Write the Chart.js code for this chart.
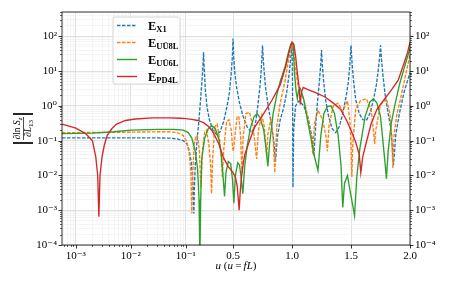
<!DOCTYPE html>
<html>
<head>
<meta charset="utf-8">
<script src="https://cdn.jsdelivr.net/npm/chart.js@4.4.1/dist/chart.umd.min.js"></script>
<style>
  html, body { margin: 0; padding: 0; background: #fff; }
  #wrap { width: 449px; height: 287px; }
</style>
</head>
<body>
<div id="wrap"><canvas id="chart" width="449" height="287"></canvas></div>
<script>
/* ---- data: [u, value] ---- */

const pointsX1 = [
  [5.6e-4,0.12],[0.003,0.12],[0.01,0.12],[0.03,0.12],[0.05,0.118],[0.07,0.112],[0.09,0.1],[0.11,0.08],
  [0.13,0.05],[0.145,0.025],[0.158,0.008],[0.165,0.002],[0.168,0.0008],[0.172,0.004],[0.18,0.02],[0.195,0.1],
  [0.21,0.35],[0.225,1.5],[0.238,6],[0.245,14],[0.25,35],[0.255,14],[0.265,3],[0.28,0.9],
  [0.3,0.4],[0.33,0.2],[0.36,0.15],[0.39,0.18],[0.42,0.35],[0.45,1.0],[0.47,2.5],[0.485,9],
  [0.494,25],[0.5,87],[0.506,25],[0.515,9],[0.53,3.5],[0.555,1.2],[0.585,0.5],[0.62,0.25],
  [0.66,0.17],[0.69,0.3],[0.71,1.0],[0.728,3.5],[0.74,12],[0.745,25],[0.75,55],[0.755,25],
  [0.762,12],[0.775,3.5],[0.8,0.9],[0.825,0.3],[0.845,0.1],[0.86,0.025],[0.875,0.12],[0.9,0.4],
  [0.93,0.9],[0.955,2.5],[0.975,8],[0.99,25],[0.996,50],[1.0,65],[1.004,5],[1.008,0.0046],
  [1.014,0.2],[1.03,1.0],[1.06,1.4],[1.1,1.0],[1.14,0.4],[1.17,0.12],[1.185,0.037],[1.2,0.25],
  [1.215,1.2],[1.232,5],[1.243,15],[1.25,40],[1.257,15],[1.268,5],[1.285,1.5],[1.31,0.5],
  [1.34,0.22],[1.37,0.17],[1.4,0.25],[1.43,0.6],[1.46,2.0],[1.478,5],[1.49,15],[1.5,55],
  [1.51,15],[1.522,5],[1.54,1.5],[1.57,0.6],[1.6,0.4],[1.63,0.38],[1.66,0.6],[1.69,1.5],
  [1.715,4],[1.73,10],[1.743,25],[1.75,55],[1.757,25],[1.77,8],[1.79,2],[1.815,0.6],
  [1.84,0.2],[1.86,0.02],[1.88,0.15],[1.91,0.6],[1.95,2.5],[2.0,9]
];

const pointsUU8 = [
  [5.6e-4,0.17],[0.003,0.172],[0.01,0.175],[0.03,0.18],[0.05,0.18],[0.07,0.17],[0.09,0.14],[0.11,0.09],
  [0.13,0.04],[0.143,0.01],[0.151,0.0008],[0.158,0.01],[0.17,0.07],[0.185,0.14],[0.2,0.13],[0.215,0.05],
  [0.228,0.0045],[0.24,0.05],[0.26,0.18],[0.275,0.2],[0.295,0.08],[0.31,0.02],[0.318,0.003],[0.327,0.03],
  [0.345,0.25],[0.365,0.3],[0.385,0.12],[0.4,0.035],[0.41,0.009],[0.42,0.05],[0.445,0.35],[0.465,0.4],
  [0.485,0.2],[0.497,0.06],[0.503,0.05],[0.512,0.1],[0.535,0.5],[0.55,0.48],[0.565,0.12],[0.575,0.012],
  [0.585,0.12],[0.61,0.6],[0.64,0.65],[0.67,0.25],[0.69,0.06],[0.7,0.03],[0.715,0.2],[0.745,0.55],
  [0.765,0.25],[0.78,0.06],[0.786,0.034],[0.795,0.15],[0.82,0.4],[0.84,0.12],[0.854,0.012],[0.87,0.25],
  [0.9,1.2],[0.94,5],[0.97,20],[0.99,45],[1.0,55],[1.01,45],[1.03,12],[1.05,4],
  [1.08,2.5],[1.11,1.1],[1.14,0.4],[1.165,0.12],[1.176,0.04],[1.19,0.3],[1.22,0.75],[1.26,0.4],
  [1.29,0.12],[1.3,0.05],[1.315,0.3],[1.35,1.0],[1.39,1.2],[1.43,0.7],[1.47,1.4],[1.49,0.4],
  [1.5,0.06],[1.507,0.009],[1.515,0.08],[1.54,0.8],[1.58,1.4],[1.63,1.6],[1.67,0.8],[1.69,0.2],
  [1.7,0.08],[1.71,0.2],[1.75,1.1],[1.8,1.6],[1.83,0.6],[1.845,0.15],[1.855,0.016],[1.865,0.15],
  [1.89,0.6],[1.92,1.6],[1.96,7],[2.0,30]
];

const pointsUU6 = [
  [5.6e-4,0.16],[0.002,0.165],[0.005,0.18],[0.01,0.2],[0.03,0.21],[0.06,0.21],[0.09,0.2],[0.12,0.17],
  [0.15,0.12],[0.18,0.05],[0.2,0.015],[0.212,0.002],[0.219,0.00004],[0.226,0.002],[0.235,0.03],[0.26,0.12],
  [0.29,0.22],[0.32,0.27],[0.35,0.22],[0.38,0.11],[0.4,0.04],[0.415,0.01],[0.428,0.0025],[0.44,0.012],
  [0.46,0.025],[0.48,0.022],[0.495,0.008],[0.507,0.0016],[0.52,0.01],[0.54,0.023],[0.555,0.02],[0.57,0.008],
  [0.583,0.003],[0.6,0.02],[0.62,0.07],[0.65,0.25],[0.68,0.5],[0.705,0.6],[0.73,0.45],[0.76,0.2],
  [0.78,0.06],[0.795,0.018],[0.81,0.08],[0.84,0.6],[0.87,2],[0.9,5],[0.94,13],[0.97,35],
  [0.99,60],[1.0,65],[1.01,55],[1.02,10],[1.035,2.5],[1.045,1.6],[1.055,2.8],[1.07,3.2],
  [1.1,1.5],[1.13,0.4],[1.16,0.12],[1.19,0.035],[1.22,0.014],[1.245,0.15],[1.27,0.6],[1.3,0.95],
  [1.33,1.0],[1.36,0.6],[1.39,0.15],[1.415,0.02],[1.43,0.0012],[1.445,0.006],[1.47,0.01],[1.49,0.004],
  [1.53,0.0007],[1.55,0.01],[1.575,0.06],[1.62,0.5],[1.66,1.3],[1.69,1.6],[1.72,1.2],[1.75,0.5],
  [1.77,0.1],[1.79,0.02],[1.8,0.008],[1.815,0.05],[1.84,0.3],[1.87,1.0],[1.91,4],[1.95,12],[2.0,45]
];

const pointsPD4 = [
  [5.6e-4,0.30],[1e-3,0.23],[1.5e-3,0.16],[2e-3,0.10],[2.3e-3,0.035],[2.5e-3,0.01],[2.62e-3,0.00065],[2.75e-3,0.01],
  [3e-3,0.035],[3.3e-3,0.075],[3.7e-3,0.14],[4.5e-3,0.22],[5.5e-3,0.3],[8e-3,0.38],[0.012,0.42],[0.025,0.45],
  [0.05,0.45],[0.08,0.44],[0.1,0.43],[0.15,0.41],[0.2,0.38],[0.25,0.33],[0.29,0.26],[0.32,0.2],
  [0.35,0.13],[0.38,0.08],[0.4,0.05],[0.42,0.032],[0.46,0.018],[0.5,0.012],[0.52,0.009],[0.535,0.005],
  [0.545,0.002],[0.552,0.001],[0.56,0.003],[0.57,0.008],[0.585,0.02],[0.6,0.04],[0.64,0.1],[0.685,0.25],
  [0.745,0.5],[0.83,1.45],[0.9,4],[0.95,15],[0.98,42],[1.0,68],[1.015,60],[1.03,28],
  [1.045,9],[1.06,3.5],[1.07,1.1],[1.08,2.5],[1.095,3.4],[1.13,3.0],[1.2,2.4],[1.28,1.8],
  [1.35,1.2],[1.41,0.8],[1.46,0.4],[1.5,0.2],[1.54,0.09],[1.57,0.04],[1.583,0.012],[1.6,0.035],
  [1.63,0.09],[1.67,0.3],[1.72,0.8],[1.78,1.5],[1.84,2.8],[1.9,5.5],[1.95,17],[1.98,35],[2.0,67]
];

const seriesNames = ['X1', 'UŪ8L', 'UŪ6L', 'PD4L'];
const seriesColors = ['#1f77b4', '#ff7f0e', '#2ca02c', '#d62728'];
const seriesDashed = [true, true, false, false];

const xMajorTicks = [1e-3, 1e-2, 1e-1, 0.5, 1.0, 1.5, 2.0];
const xTickLabels = ['10⁻³', '10⁻²', '10⁻¹', '0.5', '1.0', '1.5', '2.0'];
const yMajorTicks = [1e-4, 1e-3, 1e-2, 1e-1, 1, 10, 100];
const yTickLabels = ['10⁻⁴', '10⁻³', '10⁻²', '10⁻¹', '10⁰', '10¹', '10²'];

const X_MIN = 5.6e-4, X_MAX = 2.0;
const Y_MIN = 1e-4, Y_MAX = 500;

/* ---- minor ticks (2..9 per decade) ---- */
const xMinorTicks = [];
[1e-4, 1e-3, 1e-2].forEach(d => {
  for (let m = 2; m <= 9; m++) { const v = m * d; if (v >= X_MIN && v < 0.1) xMinorTicks.push(v); }
});
const yAllTicks = [];
yMajorTicks.forEach(d => {
  yAllTicks.push(d);
  for (let m = 2; m <= 9; m++) { const v = m * d; if (v <= Y_MAX) yAllTicks.push(v); }
});

/* ---- x axis: log below 0.1, linear above ---- */
const X_BREAK = 0.1;
const LIN_PER_DECADE = 118 / 55;   // linear-unit width relative to one decade
function fwdX(u) { return u >= X_BREAK ? (u - X_BREAK) * LIN_PER_DECADE : Math.log10(u / X_BREAK); }
function invX(t) { return t >= 0 ? X_BREAK + t / LIN_PER_DECADE : X_BREAK * Math.pow(10, t); }

class LogLinScale extends Chart.Scale {
  static id = 'loglin';
  static defaults = {};
  determineDataLimits() {
    this.min = this.options.min;
    this.max = this.options.max;
  }
  buildTicks() {
    const ticks = xMajorTicks.map(v => ({ value: v, major: true }));
    xMinorTicks.forEach(v => ticks.push({ value: v, major: false }));
    return ticks.sort((a, b) => a.value - b.value);
  }
  configure() {
    super.configure();
    this._t0 = fwdX(this.min);
    this._t1 = fwdX(this.max);
  }
  getLabelForValue(v) { return String(v); }
  getPixelForValue(v) {
    return this.getPixelForDecimal((fwdX(v) - this._t0) / (this._t1 - this._t0));
  }
  getValueForPixel(p) {
    return invX(this._t0 + this.getDecimalForPixel(p) * (this._t1 - this._t0));
  }
}
Chart.register(LogLinScale);

const SERIF = "'Liberation Serif', 'DejaVu Serif', serif";
const GRID_MAJOR = '#d8d8d8';
const GRID_MINOR = '#eeeeee';

function yLabel(v) {
  const k = yMajorTicks.indexOf(v);
  return k >= 0 ? yTickLabels[k] : '';
}

/* ---- text helper: runs of differently styled text ---- */
function drawRuns(ctx, runs, x, y, align) {
  let w = 0;
  runs.forEach(r => { ctx.font = r.font; r.w = ctx.measureText(r.text).width; w += r.w; });
  let cx = align === 'center' ? x - w / 2 : x;
  runs.forEach(r => { ctx.font = r.font; ctx.fillText(r.text, cx, y + (r.dy || 0)); cx += r.w; });
  return w;
}

const decor = {
  id: 'decor',
  afterDraw(chart) {
    const ctx = chart.ctx;
    const a = chart.chartArea;
    const xs = chart.scales.x, yl = chart.scales.y;
    ctx.save();

    // tick marks
    ctx.strokeStyle = '#000';
    xs.ticks.forEach(t => {
      const p = Math.round(xs.getPixelForValue(t.value)) + 0.5;
      ctx.lineWidth = t.major ? 0.8 : 0.6;
      ctx.beginPath(); ctx.moveTo(p, a.bottom); ctx.lineTo(p, a.bottom + (t.major ? 3.5 : 2)); ctx.stroke();
    });
    yl.ticks.forEach(t => {
      const p = Math.round(yl.getPixelForValue(t.value)) + 0.5;
      const len = t.major ? 3.5 : 2;
      ctx.lineWidth = t.major ? 0.8 : 0.6;
      ctx.beginPath(); ctx.moveTo(a.left, p); ctx.lineTo(a.left - len, p); ctx.stroke();
      ctx.beginPath(); ctx.moveTo(a.right, p); ctx.lineTo(a.right + len, p); ctx.stroke();
    });

    // spines
    ctx.lineWidth = 0.8;
    ctx.strokeRect(a.left, a.top, a.right - a.left, a.bottom - a.top);

    // legend
    const lx = 113, ly = 17, lw = 67, lh = 67, r = 2.5;
    ctx.beginPath();
    ctx.moveTo(lx + r, ly); ctx.lineTo(lx + lw - r, ly); ctx.arcTo(lx + lw, ly, lx + lw, ly + r, r);
    ctx.lineTo(lx + lw, ly + lh - r); ctx.arcTo(lx + lw, ly + lh, lx + lw - r, ly + lh, r);
    ctx.lineTo(lx + r, ly + lh); ctx.arcTo(lx, ly + lh, lx, ly + lh - r, r);
    ctx.lineTo(lx, ly + r); ctx.arcTo(lx, ly, lx + r, ly, r); ctx.closePath();
    ctx.fillStyle = 'rgba(255,255,255,0.8)'; ctx.fill();
    ctx.strokeStyle = '#cccccc'; ctx.lineWidth = 0.8; ctx.stroke();

    seriesNames.forEach((name, i) => {
      const ry = 25.5 + i * 17;
      ctx.strokeStyle = seriesColors[i];
      ctx.lineWidth = 1.4;
      ctx.setLineDash(seriesDashed[i] ? [3.5, 1.5] : []);
      ctx.beginPath(); ctx.moveTo(117, ry); ctx.lineTo(137, ry); ctx.stroke();
      ctx.setLineDash([]);
      ctx.fillStyle = '#000';
      ctx.textBaseline = 'alphabetic';
      drawRuns(ctx, [
        { text: 'E', font: 'bold 12.5px ' + SERIF },
        { text: name, font: 'bold 8.5px ' + SERIF, dy: 2 }
      ], 148, ry + 4.3, 'left');
    });

    // x title
    ctx.fillStyle = '#000';
    const it = 'italic 11px ' + SERIF, rm = '11px ' + SERIF;
    drawRuns(ctx, [
      { text: 'u', font: it }, { text: ' (', font: rm }, { text: 'u', font: it },
      { text: '\u2009=\u2009', font: rm }, { text: 'fL', font: it }, { text: ')', font: rm }
    ], (a.left + a.right) / 2, 269, 'center');

    // y title: |d ln S_z / d L_13|, rotated
    ctx.save();
    ctx.translate(23, (a.top + a.bottom) / 2);
    ctx.rotate(-Math.PI / 2);
    const f = '9.5px ' + SERIF, fi = 'italic 9.5px ' + SERIF, fs = 'italic 7px ' + SERIF, fsr = '7px ' + SERIF;
    drawRuns(ctx, [
      { text: '∂', font: f }, { text: 'ln', font: f }, { text: ' ', font: f },
      { text: 'S', font: fi }, { text: 'z', font: fs, dy: 1.8 }
    ], 0, -2.6, 'center');
    drawRuns(ctx, [
      { text: '∂', font: f }, { text: 'L', font: fi }, { text: '13', font: fsr, dy: 1.8 }
    ], 0, 8.2, 'center');
    ctx.strokeStyle = '#000';
    ctx.lineWidth = 0.7;
    ctx.beginPath(); ctx.moveTo(-11.5, 0.5); ctx.lineTo(11.5, 0.5); ctx.stroke();
    ctx.lineWidth = 1.7;
    ctx.beginPath(); ctx.moveTo(-14.5, -10); ctx.lineTo(-14.5, 10); ctx.stroke();
    ctx.beginPath(); ctx.moveTo(14.5, -10); ctx.lineTo(14.5, 10); ctx.stroke();
    ctx.restore();

    ctx.restore();
  }
};

const allPoints = [pointsX1, pointsUU8, pointsUU6, pointsPD4];

const datasets = allPoints.map((pts, i) => ({
  label: 'E_' + seriesNames[i],
  data: pts.map(p => ({ x: p[0], y: p[1] })),
  borderColor: seriesColors[i],
  backgroundColor: seriesColors[i],
  borderWidth: 1.35,
  borderDash: seriesDashed[i] ? [3.5, 1.5] : [],
  showLine: true,
  pointRadius: 0,
  tension: 0,
  order: 4 - i
}));

const tickFont = { family: SERIF, size: 11 };

new Chart(document.getElementById('chart'), {
  type: 'scatter',
  data: { datasets },
  options: {
    responsive: false,
    devicePixelRatio: 1,
    animation: false,
    layout: { padding: { top: 12, left: 0, right: 0, bottom: 0 } },
    plugins: { legend: { display: false }, tooltip: { enabled: false } },
    scales: {
      x: {
        type: 'loglin', position: 'bottom', min: X_MIN, max: X_MAX,
        afterFit: s => { s.height = 42; },
        border: { display: false },
        grid: {
          color: c => (c.tick && c.tick.major) ? GRID_MAJOR : GRID_MINOR,
          lineWidth: c => (c.tick && c.tick.major) ? 0.8 : 0.6,
          tickLength: 4, tickColor: 'rgba(0,0,0,0)'
        },
        ticks: {
          autoSkip: false, maxRotation: 0, minRotation: 0, padding: 1,
          color: '#000', font: tickFont,
          callback: v => { const k = xMajorTicks.indexOf(v); return k >= 0 ? xTickLabels[k] : ''; }
        }
      },
      y: {
        type: 'logarithmic', position: 'left', min: Y_MIN, max: Y_MAX,
        afterBuildTicks: s => { s.ticks = yAllTicks.map(v => ({ value: v, major: yMajorTicks.includes(v) })); },
        afterFit: s => { s.width = 62; },
        border: { display: false },
        grid: {
          color: c => (c.tick && c.tick.major) ? GRID_MAJOR : GRID_MINOR,
          lineWidth: c => (c.tick && c.tick.major) ? 0.8 : 0.6,
          tickLength: 4, tickColor: 'rgba(0,0,0,0)'
        },
        ticks: { autoSkip: false, padding: 1, color: '#000', font: tickFont, callback: yLabel }
      },
      y2: {
        type: 'logarithmic', position: 'right', min: Y_MIN, max: Y_MAX,
        afterBuildTicks: s => { s.ticks = yAllTicks.map(v => ({ value: v, major: yMajorTicks.includes(v) })); },
        afterFit: s => { s.width = 39; },
        border: { display: false },
        grid: { drawOnChartArea: false, tickLength: 4, tickColor: 'rgba(0,0,0,0)' },
        ticks: { autoSkip: false, padding: 1, color: '#000', font: tickFont, callback: yLabel }
      }
    }
  },
  plugins: [decor]
});
</script>
</body>
</html>
